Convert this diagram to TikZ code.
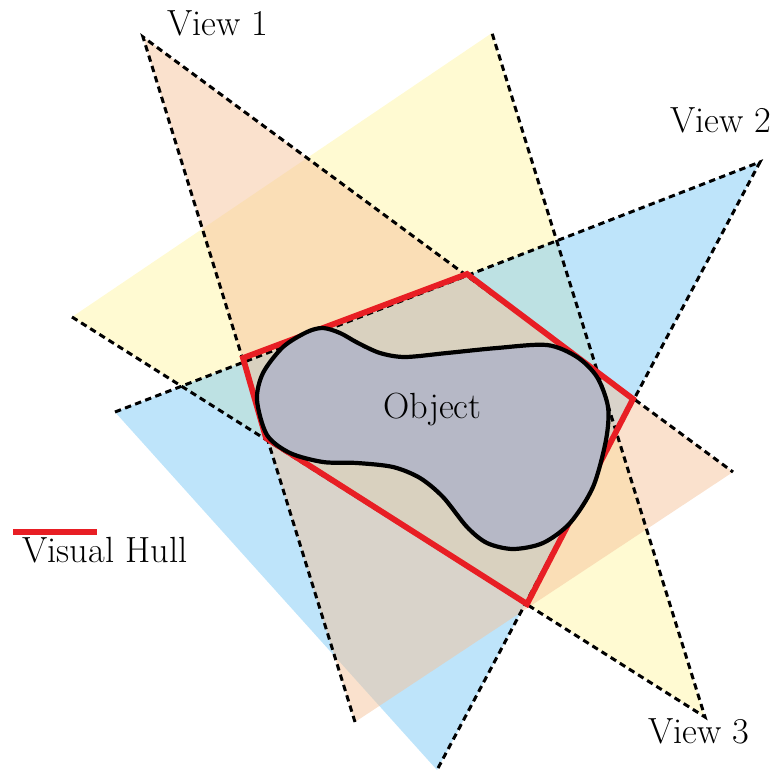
\documentclass[tikz,border=0pt]{standalone}
\usepackage{tikz}
\definecolor{coney}{RGB}{255,245,165}
\definecolor{coneo}{RGB}{245,195,155}
\definecolor{coneb}{RGB}{125,201,245}
\definecolor{hullred}{RGB}{232,30,36}
\definecolor{objgray}{RGB}{182,184,198}
\tikzset{
  conefill/.style={fill opacity=0.5, draw=none},
  raydash/.style={line width=1.5pt, dash pattern=on 3.2pt off 2.2pt, black},
  hullline/.style={line width=2.9pt, hullred, line join=miter},
  lbl/.style={inner sep=0pt, font=\fontsize{18.2}{22}\selectfont}
}
\begin{document}
\begin{tikzpicture}[x=0.5pt, y=-0.5pt]
\useasboundingbox (0,0) rectangle (773,775);
% apexes and ray ends
\coordinate (A1) at (143,37);
\coordinate (A1l) at (355,722);
\coordinate (A1r) at (733,472);
\coordinate (A2) at (760,162);
\coordinate (A2u) at (115,412);
\coordinate (A2d) at (437,770);
\coordinate (A3) at (705,717);
\coordinate (A3l) at (72,317);
\coordinate (A3u) at (492,33);
% hull vertices
\coordinate (H1) at (243,358);
\coordinate (H2) at (467,274);
\coordinate (H3) at (633,399);
\coordinate (H4) at (527,604);
\coordinate (H5) at (266,438);
% cone fills
\fill[conefill, coney] (A3) -- (A3l) -- (A3u) -- cycle;
\fill[conefill, coneb] (A2) -- (A2u) -- (A2d) -- cycle;
\fill[conefill, coneo] (A1) -- (A1l) -- (A1r) -- cycle;
% rays
\draw[raydash] (A1l) -- (A1) -- (A1r);
\draw[raydash] (A2u) -- (A2) -- (A2d);
\draw[raydash] (A3l) -- (A3) -- (A3u);
% visual hull
\draw[hullline] (H1) -- (H2) -- (H3) -- (H4) -- (H5) -- cycle;
% object
\draw[line width=2.1pt, fill=objgray] plot[smooth cycle, tension=0.5] coordinates {
 (257,400) (263,373) (283,347) (307,332) (323,328) (340,333) (358,343)
 (380,353) (405,357) (447,353) (497,348) (547,345) (577,357) (597,377)
 (608,407) (606,440) (593,487) (570,523) (543,543) (513,549) (487,543)
 (467,527) (443,497) (420,478) (393,467) (357,463) (323,462) (290,453)
 (267,435)};
\node[lbl, anchor=base west] (obj) at (383,418) {Object};
% labels
\node[lbl, anchor=base west] (v1) at (167,36) {View 1};
\node[lbl, anchor=base west] (v2) at (670,133) {View 2};
\node[lbl, anchor=base west] (v3) at (648,743) {View 3};
% legend
\coordinate (L1) at (13,532);
\coordinate (L2) at (97,532);
\draw[line width=3.4pt, hullred] (L1) -- (L2);
\node[lbl, anchor=base west] (vh) at (22,562) {Visual Hull};
\end{tikzpicture}
\end{document}
